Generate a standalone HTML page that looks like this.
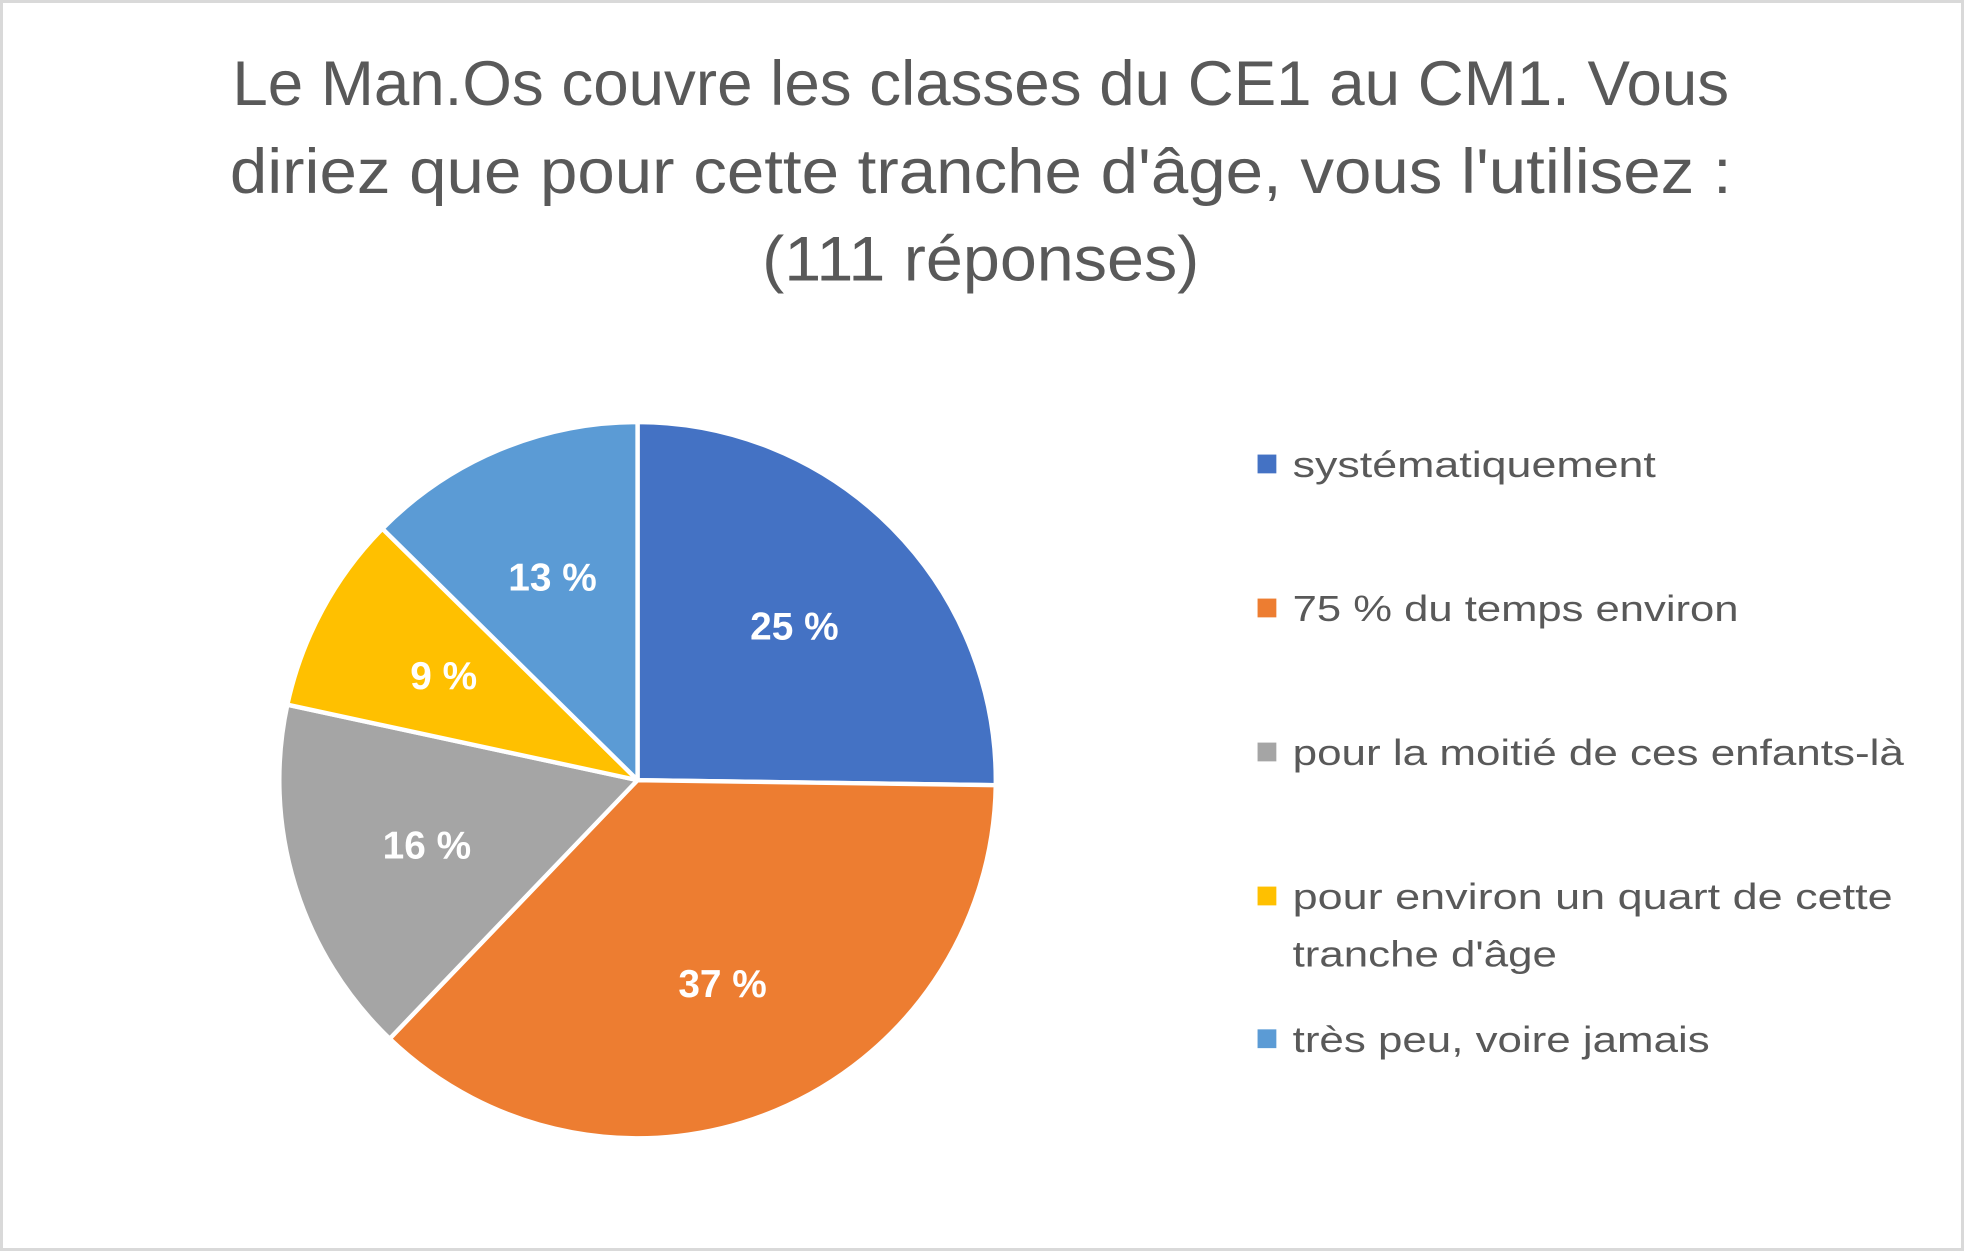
<!DOCTYPE html>
<html><head><meta charset="utf-8"><style>
html,body{margin:0;padding:0;background:#fff;}
svg{display:block;}
text{font-family:"Liberation Sans",sans-serif;}
</style></head><body>
<svg id="chart" width="1964" height="1251" viewBox="0 0 1568 999" preserveAspectRatio="none" xmlns="http://www.w3.org/2000/svg">
<rect x="1.2" y="1.2" width="1565.6" height="996.6" fill="#fff" stroke="#d9d9d9" stroke-width="2.4"/>
<g fill="#595959" font-size="50" text-anchor="middle">
<text x="783" y="84" textLength="1195" lengthAdjust="spacingAndGlyphs">Le Man.Os couvre les classes du CE1 au CM1. Vous</text>
<text x="783" y="154" textLength="1199" lengthAdjust="spacingAndGlyphs">diriez que pour cette tranche d'âge, vous l'utilisez :</text>
<text x="783" y="224" textLength="349" lengthAdjust="spacingAndGlyphs">(111 réponses)</text>
</g>
<g id="slices"></g>
<g id="labels"></g>
<g id="legend"></g>
</svg>
<script>
const categories = ["systématiquement","75 % du temps environ","pour la moitié de ces enfants-là","pour environ un quart de cette tranche d'âge","très peu, voire jamais"];
const counts = [28, 41, 18, 10, 14];
const pctLabels = ["25 %","37 %","16 %","9 %","13 %"];
const colors = ["#4472c4","#ed7d31","#a5a5a5","#ffc000","#5b9bd5"];
const legendLines = [["systématiquement"],["75 % du temps environ"],["pour la moitié de ces enfants-là"],["pour environ un quart de cette","tranche d'âge"],["très peu, voire jamais"]];
const legendWidths = [[290],[356],[488],[479],[211],[333]];

const NS="http://www.w3.org/2000/svg";
const cx=509, cy=623, R=286;
const total=counts.reduce((a,b)=>a+b,0);
function pt(frac,r){const a=frac*2*Math.PI;return [cx+r*Math.sin(a),cy-r*Math.cos(a)];}
const gS=document.getElementById('slices'), gL=document.getElementById('labels'), gG=document.getElementById('legend');
let acc=0;
counts.forEach((v,i)=>{
  const f0=acc/total, f1=(acc+v)/total; acc+=v;
  const [x0,y0]=pt(f0,R),[x1,y1]=pt(f1,R);
  const large=(f1-f0)>0.5?1:0;
  const p=document.createElementNS(NS,'path');
  p.setAttribute('d',`M${cx},${cy} L${x0},${y0} A${R},${R} 0 ${large} 1 ${x1},${y1} Z`);
  p.setAttribute('fill',colors[i]);p.setAttribute('stroke','#fff');p.setAttribute('stroke-width','3.5');p.setAttribute('stroke-linejoin','round');
  
  
  gS.appendChild(p);
  const [lx,ly]=pt((f0+f1)/2,R*0.615);
  const t=document.createElementNS(NS,'text');
  t.setAttribute('x',lx);t.setAttribute('y',ly+11);t.setAttribute('text-anchor','middle');
  t.setAttribute('fill','#fff');t.setAttribute('font-weight','bold');t.setAttribute('font-size','31');
  t.textContent=pctLabels[i];
  
  
  gL.appendChild(t);
});
const legendY=[381,496,611,726,840];
let wi=0;
categories.forEach((c,i)=>{
  const y=legendY[i];
  const r=document.createElementNS(NS,'rect');
  r.setAttribute('x',1004);r.setAttribute('y',y-18);r.setAttribute('width',15);r.setAttribute('height',15);r.setAttribute('fill',colors[i]);
  
  
  gG.appendChild(r);
  legendLines[i].forEach((ln,j)=>{
    const t=document.createElementNS(NS,'text');
    t.setAttribute('x',1032);t.setAttribute('y',y+j*46);t.setAttribute('font-size','29');t.setAttribute('fill','#595959');
    t.setAttribute('textLength',legendWidths[wi++][0]);t.setAttribute('lengthAdjust','spacingAndGlyphs');
    t.textContent=ln;
    
    
    gG.appendChild(t);
  });
});
</script>
</body></html>
